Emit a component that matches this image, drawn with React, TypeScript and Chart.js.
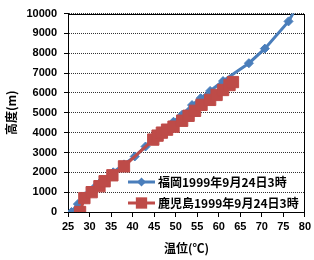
import React, { useEffect, useRef } from "react";
import { Chart, registerables } from "chart.js";

Chart.register(...registerables);

const fukuokaLabel = "福岡1999年9月24日3時";
const kagoshimaLabel = "鹿児島1999年9月24日3時";
const xTitle = "温位(℃)";
const yTitle = "高度(m)";

const fukuokaTheta = [25.8, 27.3, 29, 31, 33, 35.5, 38, 40.5, 43, 45.5, 47.5, 49.5, 51.5, 53.8, 55.8, 58, 61, 67, 70.7, 76.2, 78];
const fukuokaHeight = [0, 400, 800, 1200, 1600, 2000, 2400, 2800, 3300, 3800, 4200, 4550, 4900, 5390, 5735, 6100, 6600, 7500, 8235, 9608, 10300];

const kagoshimaTheta = [27.8, 28.8, 30.5, 32.3, 33.5, 35.3, 38.0, 44.8, 45.8, 46.8, 48.0, 49.5, 51.5, 53.0, 54.5, 56.0, 58.0, 59.5, 61.0, 62.5, 63.3];
const kagoshimaHeight = [0, 700, 1000, 1300, 1550, 1850, 2300, 3650, 3850, 4000, 4150, 4300, 4600, 4850, 5100, 5400, 5650, 5900, 6150, 6400, 6550];

const BLUE = "#4A7EBB";
const RED = "#BE4B48";
const NUM_FONT = "'Liberation Sans', 'Noto Sans CJK JP', sans-serif";
const JP_FONT = "'Noto Sans CJK JP', 'Liberation Sans', sans-serif";

export default function App() {
  const ref = useRef<HTMLCanvasElement | null>(null);

  useEffect(() => {
    if (!ref.current) return;

    const framePlugin = {
      id: "frame",
      beforeDatasetsDraw(chart: any) {
        const { ctx, chartArea } = chart;
        ctx.save();
        ctx.strokeStyle = "#000";
        ctx.lineWidth = 1;
        ctx.strokeRect(
          Math.round(chartArea.left) + 0.5,
          Math.round(chartArea.top) + 0.5,
          Math.round(chartArea.right - chartArea.left) - 1,
          Math.round(chartArea.bottom - chartArea.top)
        );
        ctx.restore();
      },
    };

    const legendPlugin = {
      id: "insideLegend",
      afterDatasetsDraw(chart: any) {
        const { ctx, chartArea } = chart;
        const items = [
          { label: fukuokaLabel, color: BLUE, style: "rectRot", r: 4.5, y: chartArea.bottom - 30 },
          { label: kagoshimaLabel, color: RED, style: "rect", r: 8, y: chartArea.bottom - 9 },
        ];
        ctx.save();
        items.forEach((it) => {
          const x0 = chartArea.left + 60;
          const x1 = chartArea.left + 87;
          ctx.strokeStyle = it.color;
          ctx.lineWidth = 3;
          ctx.beginPath();
          ctx.moveTo(x0, it.y);
          ctx.lineTo(x1, it.y);
          ctx.stroke();
          ctx.fillStyle = it.color;
          ctx.beginPath();
          const cx = (x0 + x1) / 2;
          if (it.style === "rect") {
            const s = Math.SQRT1_2 * it.r;
            ctx.rect(cx - s, it.y - s, 2 * s, 2 * s);
          } else {
            ctx.moveTo(cx, it.y - it.r);
            ctx.lineTo(cx + it.r, it.y);
            ctx.lineTo(cx, it.y + it.r);
            ctx.lineTo(cx - it.r, it.y);
            ctx.closePath();
          }
          ctx.fill();
          ctx.fillStyle = "#000";
          ctx.font = "bold 12px " + JP_FONT;
          ctx.textBaseline = "middle";
          ctx.textAlign = "left";
          ctx.fillText(it.label, x1 + 3, it.y);
        });
        ctx.restore();
      },
    };

    const chart = new Chart(ref.current, {
      type: "line",
      data: {
        datasets: [
          {
            label: fukuokaLabel,
            data: fukuokaTheta.map((x, i) => ({ x, y: fukuokaHeight[i] })),
            borderColor: BLUE,
            backgroundColor: BLUE,
            borderWidth: 3,
            pointStyle: "rectRot",
            pointRadius: 4.5,
            pointBorderWidth: 1,
            tension: 0,
            order: 2,
          },
          {
            label: kagoshimaLabel,
            data: kagoshimaTheta.map((x, i) => ({ x, y: kagoshimaHeight[i] })),
            borderColor: RED,
            backgroundColor: RED,
            borderWidth: 3,
            pointStyle: "rect",
            pointRadius: 8,
            pointBorderWidth: 1,
            tension: 0,
            order: 1,
          },
        ],
      },
      options: {
        responsive: false,
        animation: false,
        layout: { padding: { left: 0, right: 7, top: 8, bottom: 4 } },
        plugins: { legend: { display: false }, tooltip: { enabled: false } },
        scales: {
          x: {
            type: "linear",
            min: 25,
            max: 80,
            ticks: {
              stepSize: 5,
              color: "#000",
              font: { family: NUM_FONT, size: 11, weight: "bold" },
              padding: 3,
              maxRotation: 0,
              callback: (v: any) => String(v),
            },
            grid: {
              drawOnChartArea: false,
              drawTicks: true,
              tickLength: 5,
              color: "#000",
              tickColor: "#000",
            },
            border: { display: true, color: "#000", width: 1 },
            title: {
              display: true,
              text: xTitle,
              color: "#000",
              font: { family: JP_FONT, size: 12, weight: "bold" },
              padding: { top: 2, bottom: 0 },
            },
            afterFit(scale: any) {
              scale.height = 44;
            },
          },
          y: {
            type: "linear",
            min: 0,
            max: 10000,
            ticks: {
              stepSize: 1000,
              color: "#000",
              font: { family: NUM_FONT, size: 11, weight: "bold" },
              padding: 7,
              callback: (v: any) => String(v),
            },
            grid: {
              drawOnChartArea: true,
              drawTicks: true,
              tickLength: 4,
              color: "#333",
              tickColor: "#000",
              tickBorderDash: [],
              lineWidth: 1,
            },
            border: { display: true, color: "#000", width: 1, dash: [1, 1] },
            title: {
              display: true,
              text: yTitle,
              color: "#000",
              font: { family: JP_FONT, size: 12, weight: "bold" },
              padding: { top: 4, bottom: 0 },
            },
            afterFit(scale: any) {
              scale.width = 68;
            },
          },
        },
      },
      plugins: [framePlugin, legendPlugin],
    } as any);

    return () => chart.destroy();
  }, []);

  return (
    <div style={{ position: "absolute", left: 0, top: 0, width: 314, height: 260, background: "#fff" }}>
      <canvas ref={ref} width={314} height={260} />
    </div>
  );
}
